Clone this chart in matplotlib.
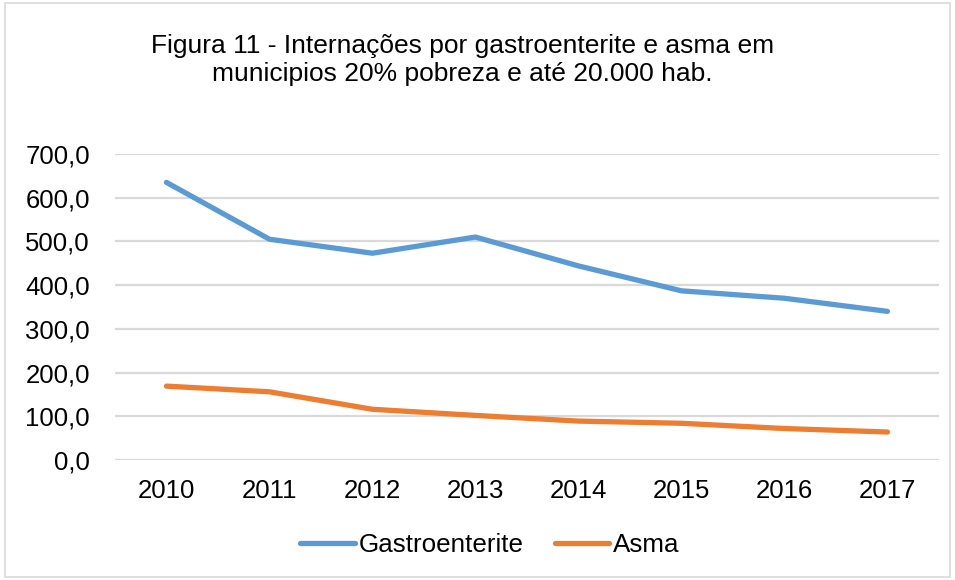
import numpy as np
import matplotlib
matplotlib.use("Agg")
from matplotlib import pyplot as plt
from matplotlib.patches import Rectangle
from matplotlib.ticker import FuncFormatter

plt.rcParams['font.family'] = ['Liberation Sans', 'DejaVu Sans']

anos = ["2010", "2011", "2012", "2013", "2014", "2015", "2016", "2017"]
gastroenterite = [635, 505, 473, 510, 444, 387, 370, 340]
asma = [169, 156, 116, 102, 89, 84, 72, 64]

fig = plt.figure(figsize=(9.55, 5.8), dpi=100)
ax = fig.add_axes([0.1204, 0.2069, 0.8628, 0.5276])

xs = np.arange(len(anos))
ax.plot(xs, gastroenterite, color="#5B9BD5", lw=3.8, solid_capstyle="round",
        solid_joinstyle="round", label="Gastroenterite")
ax.plot(xs, asma, color="#ED7D31", lw=3.8, solid_capstyle="round",
        solid_joinstyle="round", label="Asma")

ax.set_xlim(-0.5, len(anos) - 0.5)
ax.set_ylim(0, 700)
ax.set_yticks(np.arange(0, 701, 100))
ax.yaxis.set_major_formatter(FuncFormatter(lambda v, p: ("%.1f" % v).replace(".", ",")))
ax.set_xticks(xs)
ax.set_xticklabels(anos)
ax.grid(axis="y", color="#D9D9D9", lw=1.6)
ax.set_axisbelow(True)
for s in ax.spines.values():
    s.set_visible(False)
ax.tick_params(axis="both", length=0, labelsize=18.5, colors="black")
ax.tick_params(axis="y", pad=18)
ax.tick_params(axis="x", pad=14)

fig.text(0.484, 0.897, "Figura 11 - Internações por gastroenterite e asma em\nmunicipios 20% pobreza e até 20.000 hab.",
         ha="center", va="center", fontsize=19, linespacing=1.2)

fig.legend(loc="center", bbox_to_anchor=(0.513, 0.06), ncol=2, frameon=False,
           fontsize=18.7, handlelength=2.1, handletextpad=0.15, columnspacing=1.2)

fig.patches.append(Rectangle((0.005, 0.005), 0.99, 0.99, transform=fig.transFigure,
                             fill=False, edgecolor="#D9D9D9", lw=1.2))

plt.savefig("out.png", dpi=100)
